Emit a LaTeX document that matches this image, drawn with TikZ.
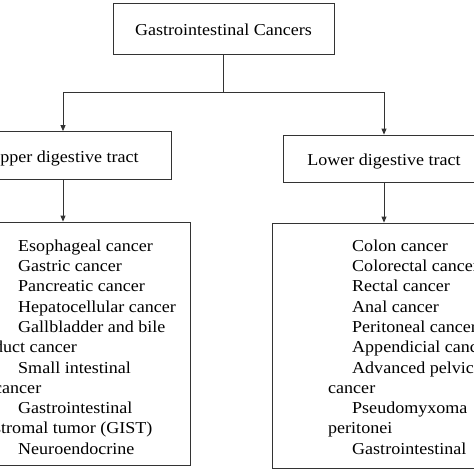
\documentclass[tikz,border=0pt]{standalone}
\usepackage{fontspec}
\setmainfont[FakeStretch=1.08]{Liberation Serif}
\usetikzlibrary{arrows.meta,positioning}
\tikzset{
    box/.style={draw=black!80, line width=0.8pt, minimum height=48pt, inner sep=0pt,
        text height=14pt, text depth=0pt, font=\fontsize{16.7}{20.3}\selectfont},
    listtext/.style={align=left, inner sep=0pt, font=\fontsize{16.7}{20.3}\selectfont},
    arrow/.style={draw=black!80, line width=0.8pt, -{Triangle[length=6pt,width=5pt]}},
    line/.style={draw=black!80, line width=0.8pt}
}
\newcommand{\rientro}{\hspace*{24pt}}

\begin{document}
\begin{tikzpicture}[x=1pt, y=-1pt]
        % Area del disegno: l'immagine di riferimento e' tagliata sui bordi
        \useasboundingbox (0,0) rectangle (474,474);

        % --- Riquadri principali ---
        \node[box, minimum width=221pt, minimum height=51pt] (gi) at (223.5,28.5) {Gastrointestinal Cancers};
        \node[box, minimum width=217pt] (upper) at (63,155.5) {Upper digestive tract};
        \node[box, minimum width=202pt, minimum height=47pt] (lower) at (384,158.5) {Lower digestive tract};

        % --- Riquadri con gli elenchi ---
        \node[box, minimum width=254pt, minimum height=243pt] (ulist) at (63,343.5) {};
        \node[box, minimum width=224pt, minimum height=245pt] (llist) at (384,345.5) {};

        % Testo degli elenchi (prima riga rientrata, come nell'originale)
        \node[listtext, anchor=north west] (utext) at (-6,239.5) {%
            \rientro Esophageal cancer\\
            \rientro Gastric cancer\\
            \rientro Pancreatic cancer\\
            \rientro Hepatocellular cancer\\
            \rientro Gallbladder and bile\\
            duct cancer\\
            \rientro Small intestinal\\
            cancer\\
            \rientro Gastrointestinal\\
            stromal tumor (GIST)\\
            \rientro Neuroendocrine};
        \node[listtext, anchor=north west] (ltext) at (328,239.5) {%
            \rientro Colon cancer\\
            \rientro Colorectal cancer\\
            \rientro Rectal cancer\\
            \rientro Anal cancer\\
            \rientro Peritoneal cancer\\
            \rientro Appendicial cancer\\
            \rientro Advanced pelvic\\
            cancer\\
            \rientro Pseudomyxoma\\
            peritonei\\
            \rientro Gastrointestinal};

        % --- Collegamenti ---
        \coordinate (split) at (223.5,92);
        \draw[line] (gi.south) -- (split);
        \draw[arrow] (split) -| (upper.north);
        \draw[arrow] (split) -| (lower.north);
        \draw[arrow] (upper.south) -- (ulist.north);
        \draw[arrow] (lower.south) -- (llist.north);

    \end{tikzpicture}
\end{document}
